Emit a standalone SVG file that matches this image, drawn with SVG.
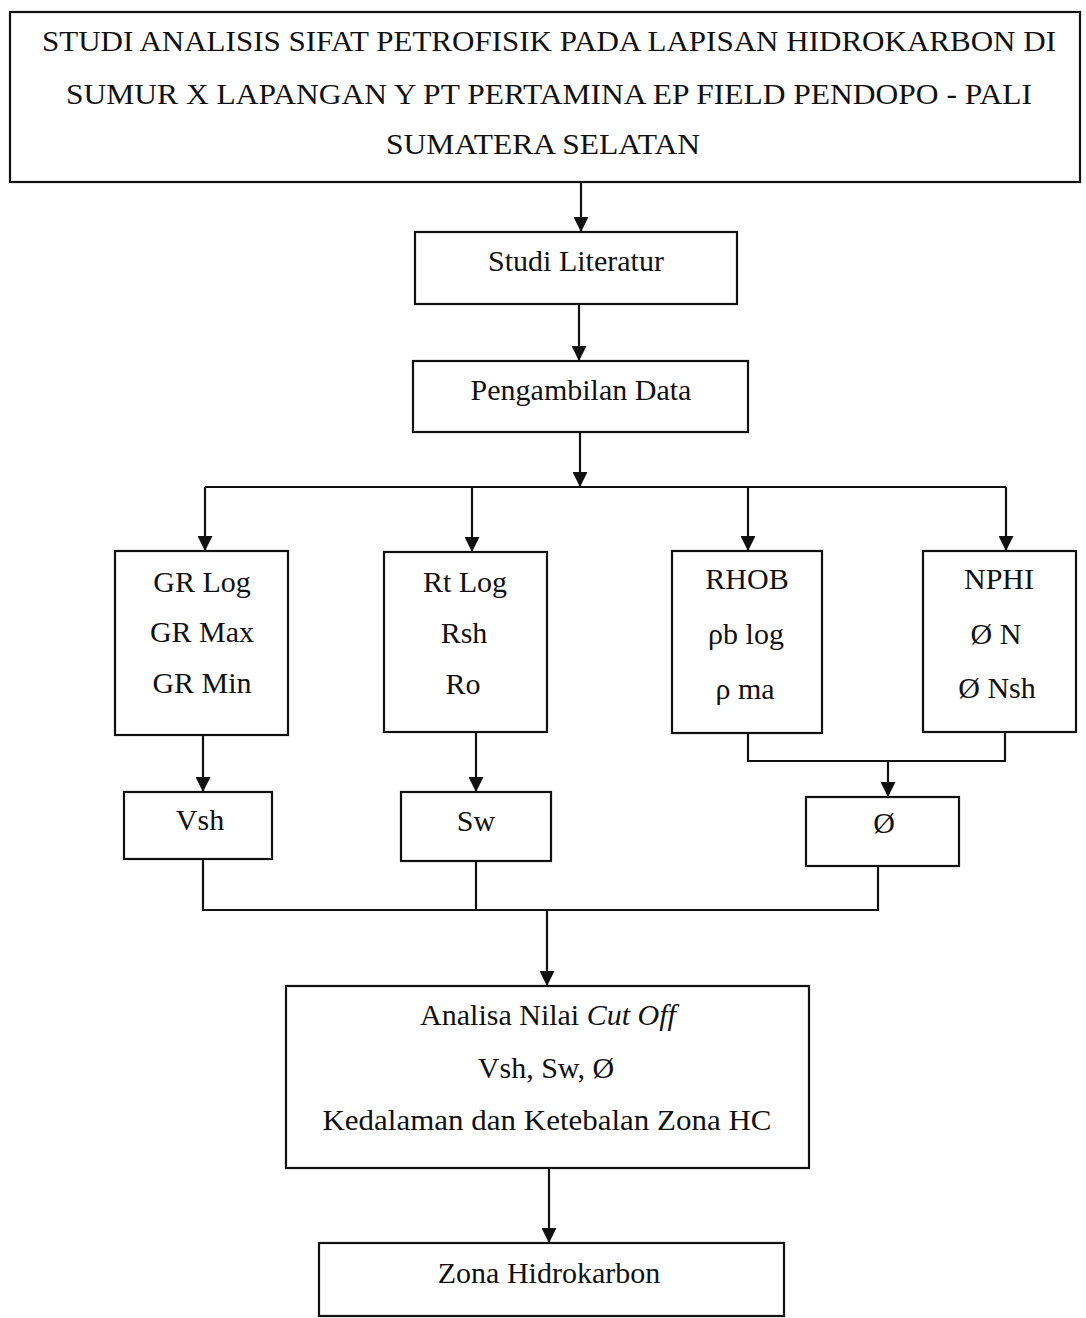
<svg xmlns="http://www.w3.org/2000/svg" width="1086" height="1318" viewBox="0 0 1086 1318">
<style>
.box{fill:#fff;stroke:#111;stroke-width:2.2}
.t{font-family:"Liberation Serif","Times New Roman",serif;font-size:30px;fill:#111;text-anchor:middle}
.c{fill:none;stroke:#111;stroke-width:2.2}
</style>
<defs>
<marker id="ah" markerUnits="userSpaceOnUse" markerWidth="15" markerHeight="15" refX="15" refY="7.5" orient="auto">
<path d="M0,0 L15,7.5 L0,15 z" fill="#111"/>
</marker>
</defs>
<rect width="1086" height="1318" fill="#fff"/>
<g id="connectors">
<path class="c" d="M581,182 V232" marker-end="url(#ah)"/>
<path class="c" d="M579,304 V361" marker-end="url(#ah)"/>
<path class="c" d="M580,432 V487" marker-end="url(#ah)"/>
<path class="c" d="M205,487 H1006"/>
<path class="c" d="M205,487 V551" marker-end="url(#ah)"/>
<path class="c" d="M472,487 V552" marker-end="url(#ah)"/>
<path class="c" d="M748,487 V551" marker-end="url(#ah)"/>
<path class="c" d="M1006,487 V551" marker-end="url(#ah)"/>
<path class="c" d="M203,735 V792" marker-end="url(#ah)"/>
<path class="c" d="M476,732 V792" marker-end="url(#ah)"/>
<path class="c" d="M748,733 V761 H1005 V732"/>
<path class="c" d="M888,761 V797" marker-end="url(#ah)"/>
<path class="c" d="M203,859 V910 H878 V866"/>
<path class="c" d="M476,861 V910"/>
<path class="c" d="M547,910 V986" marker-end="url(#ah)"/>
<path class="c" d="M549,1168 V1243" marker-end="url(#ah)"/>
</g>
<g id="title">
<rect class="box" x="10" y="12" width="1070" height="170"/>
<text class="t" x="549" y="51" textLength="1014" lengthAdjust="spacingAndGlyphs">STUDI ANALISIS SIFAT PETROFISIK PADA LAPISAN HIDROKARBON DI</text>
<text class="t" x="549" y="104" textLength="966" lengthAdjust="spacingAndGlyphs">SUMUR X LAPANGAN Y PT PERTAMINA EP FIELD PENDOPO - PALI</text>
<text class="t" x="543" y="154" textLength="314" lengthAdjust="spacingAndGlyphs">SUMATERA SELATAN</text>
</g>
<g id="studi">
<rect class="box" x="415" y="232" width="322" height="72"/>
<text class="t" x="576" y="271">Studi Literatur</text>
</g>
<g id="pengambilan">
<rect class="box" x="413" y="361" width="335" height="71"/>
<text class="t" x="581" y="400">Pengambilan Data</text>
</g>
<g id="gr">
<rect class="box" x="115" y="551" width="173" height="184"/>
<text class="t" x="202" y="592">GR Log</text>
<text class="t" x="202" y="642">GR Max</text>
<text class="t" x="202" y="693">GR Min</text>
</g>
<g id="rt">
<rect class="box" x="384" y="552" width="163" height="180"/>
<text class="t" x="465" y="592">Rt Log</text>
<text class="t" x="464" y="643">Rsh</text>
<text class="t" x="463" y="694">Ro</text>
</g>
<g id="rhob">
<rect class="box" x="672" y="551" width="150" height="182"/>
<text class="t" x="747" y="589">RHOB</text>
<text class="t" x="746" y="644">ρb log</text>
<text class="t" x="745" y="699">ρ ma</text>
</g>
<g id="nphi">
<rect class="box" x="923" y="551" width="153" height="181"/>
<text class="t" x="999" y="589">NPHI</text>
<text class="t" x="996" y="644">Ø N</text>
<text class="t" x="997" y="698">Ø Nsh</text>
</g>
<g id="vsh">
<rect class="box" x="124" y="792" width="148" height="67"/>
<text class="t" x="200" y="830">Vsh</text>
</g>
<g id="sw">
<rect class="box" x="401" y="792" width="150" height="69"/>
<text class="t" x="476" y="831">Sw</text>
</g>
<g id="phi">
<rect class="box" x="806" y="797" width="153" height="69"/>
<text class="t" x="884" y="833">Ø</text>
</g>
<g id="analisa">
<rect class="box" x="286" y="986" width="523" height="182"/>
<text class="t" x="548" y="1025">Analisa Nilai <tspan font-style="italic">Cut Off</tspan></text>
<text class="t" x="546" y="1078">Vsh, Sw, Ø</text>
<text class="t" x="547" y="1130" textLength="449" lengthAdjust="spacingAndGlyphs">Kedalaman dan Ketebalan Zona HC</text>
</g>
<g id="zona">
<rect class="box" x="319" y="1243" width="465" height="73"/>
<text class="t" x="549" y="1283">Zona Hidrokarbon</text>
</g>
</svg>
